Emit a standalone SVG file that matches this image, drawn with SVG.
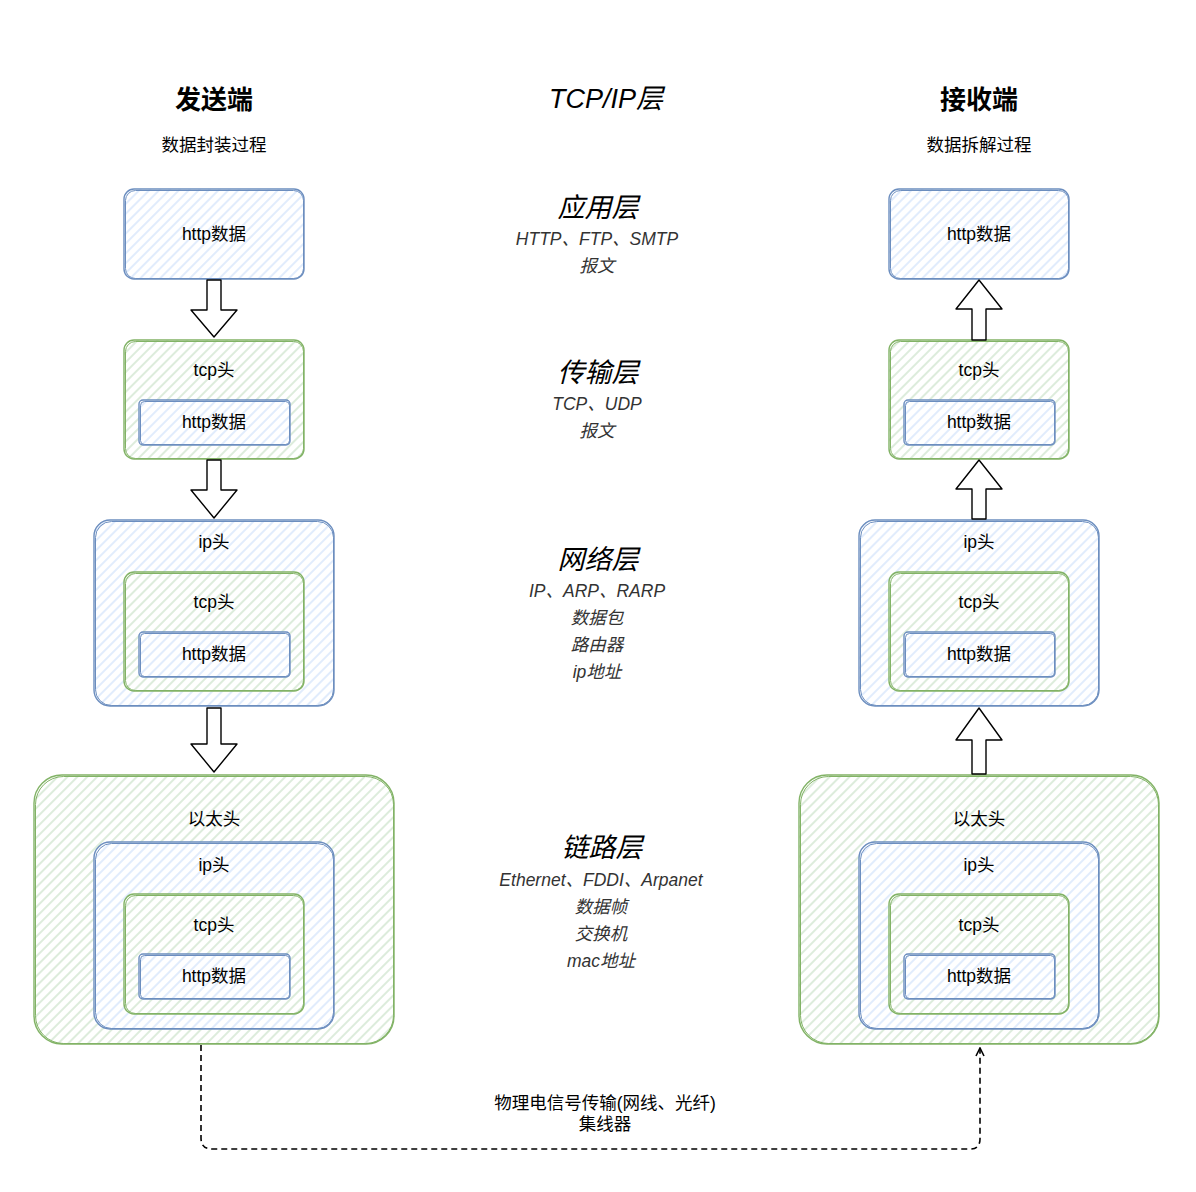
<svg xmlns="http://www.w3.org/2000/svg" width="1196" height="1192" viewBox="0 0 1196 1192">
<style>
text{font-family:"Liberation Sans","Noto Sans CJK SC",sans-serif;fill:#000;text-anchor:middle}
.t{font-size:17.5px}
.h{font-size:26px;font-weight:bold}
.sub{font-size:17.5px}
.lay{font-size:27px;font-style:italic}
.li{font-size:17.5px;font-style:italic;fill:#333}
.b{stroke:#6c8ebf;stroke-width:1.4;fill:url(#hb)}
.g{stroke:#82b366;stroke-width:1.4;fill:url(#hg)}
.b2{stroke:#6c8ebf;stroke-width:1;fill:none}
.g2{stroke:#82b366;stroke-width:1;fill:none}
.arr{fill:#fff;stroke:#000;stroke-width:1.4;stroke-linejoin:round}
.dash{fill:none;stroke:#000;stroke-width:1.6;stroke-dasharray:6 4}
</style>
<defs>
<pattern id="hb" width="7" height="7" patternUnits="userSpaceOnUse" patternTransform="rotate(45)">
<rect width="7" height="7" fill="#fff"/>
<line x1="2" y1="0" x2="2" y2="7" stroke="#dae8fc" stroke-width="1.6"/>
</pattern>
<pattern id="hg" width="7" height="7" patternUnits="userSpaceOnUse" patternTransform="rotate(45)">
<rect width="7" height="7" fill="#fff"/>
<line x1="2" y1="0" x2="2" y2="7" stroke="#d5e8d4" stroke-width="1.6"/>
</pattern>
<marker id="op" viewBox="0 0 10 10" refX="9" refY="5" markerWidth="10" markerHeight="10" orient="auto" markerUnits="userSpaceOnUse">
<path d="M1,1 L9,5 L1,9" fill="none" stroke="#000" stroke-width="1.6"/>
</marker>
</defs>

<g id="titles">
<text class="h" x="214" y="109">发送端</text>
<text class="sub" x="214" y="151">数据封装过程</text>
<text class="lay" x="606" y="108">TCP/IP层</text>
<text class="h" x="979" y="109">接收端</text>
<text class="sub" x="979" y="151">数据拆解过程</text>
</g>

<g id="layers">
<text class="lay" x="598" y="217">应用层</text>
<text class="li" x="597" y="245">HTTP、FTP、SMTP</text>
<text class="li" x="597" y="272">报文</text>
<text class="lay" x="598" y="382">传输层</text>
<text class="li" x="597" y="410">TCP、UDP</text>
<text class="li" x="597" y="437">报文</text>
<text class="lay" x="598" y="569">网络层</text>
<text class="li" x="597" y="597">IP、ARP、RARP</text>
<text class="li" x="597" y="624">数据包</text>
<text class="li" x="597" y="651">路由器</text>
<text class="li" x="597" y="678">ip地址</text>
<text class="lay" x="602" y="857">链路层</text>
<text class="li" x="601" y="886">Ethernet、FDDI、Arpanet</text>
<text class="li" x="601" y="913">数据帧</text>
<text class="li" x="601" y="940">交换机</text>
<text class="li" x="601" y="967">mac地址</text>
</g>

<!-- Left column -->
<g id="L-app">
<rect class="b" x="124" y="189" width="180" height="90" rx="10"/>
<rect class="b2" x="125.5" y="190.5" width="178" height="88" rx="10"/>
<text class="t" x="214" y="240">http数据</text>
</g>
<g id="L-tcp">
<rect class="g" x="124" y="340" width="180" height="119" rx="10"/>
<rect class="g2" x="125.5" y="341.5" width="178" height="117" rx="10"/>
<text class="t" x="214" y="376">tcp头</text>
<rect class="b" x="139" y="400" width="151" height="45" rx="4"/>
<rect class="b2" x="140.5" y="401.5" width="149" height="43" rx="4"/>
<text class="t" x="214" y="428">http数据</text>
</g>
<g id="L-ip">
<rect class="b" x="94" y="520" width="240" height="186" rx="16"/>
<rect class="b2" x="95.5" y="521.5" width="238" height="184" rx="16"/>
<text class="t" x="214" y="548">ip头</text>
<rect class="g" x="124" y="572" width="180" height="119" rx="10"/>
<rect class="g2" x="125.5" y="573.5" width="178" height="117" rx="10"/>
<text class="t" x="214" y="608">tcp头</text>
<rect class="b" x="139" y="632" width="151" height="45" rx="4"/>
<rect class="b2" x="140.5" y="633.5" width="149" height="43" rx="4"/>
<text class="t" x="214" y="660">http数据</text>
</g>
<g id="L-eth">
<rect class="g" x="34" y="775" width="360" height="269" rx="28"/>
<rect class="g2" x="35.5" y="776.5" width="358" height="267" rx="28"/>
<text class="t" x="214" y="825">以太头</text>
<rect class="b" x="94" y="842" width="240" height="187" rx="16"/>
<rect class="b2" x="95.5" y="843.5" width="238" height="185" rx="16"/>
<text class="t" x="214" y="871">ip头</text>
<rect class="g" x="124" y="894" width="180" height="120" rx="10"/>
<rect class="g2" x="125.5" y="895.5" width="178" height="118" rx="10"/>
<text class="t" x="214" y="931">tcp头</text>
<rect class="b" x="139" y="954" width="151" height="45" rx="4"/>
<rect class="b2" x="140.5" y="955.5" width="149" height="43" rx="4"/>
<text class="t" x="214" y="982">http数据</text>
</g>

<!-- Right column -->
<g id="R-app">
<rect class="b" x="889" y="189" width="180" height="90" rx="10"/>
<rect class="b2" x="890.5" y="190.5" width="178" height="88" rx="10"/>
<text class="t" x="979" y="240">http数据</text>
</g>
<g id="R-tcp">
<rect class="g" x="889" y="340" width="180" height="119" rx="10"/>
<rect class="g2" x="890.5" y="341.5" width="178" height="117" rx="10"/>
<text class="t" x="979" y="376">tcp头</text>
<rect class="b" x="904" y="400" width="151" height="45" rx="4"/>
<rect class="b2" x="905.5" y="401.5" width="149" height="43" rx="4"/>
<text class="t" x="979" y="428">http数据</text>
</g>
<g id="R-ip">
<rect class="b" x="859" y="520" width="240" height="186" rx="16"/>
<rect class="b2" x="860.5" y="521.5" width="238" height="184" rx="16"/>
<text class="t" x="979" y="548">ip头</text>
<rect class="g" x="889" y="572" width="180" height="119" rx="10"/>
<rect class="g2" x="890.5" y="573.5" width="178" height="117" rx="10"/>
<text class="t" x="979" y="608">tcp头</text>
<rect class="b" x="904" y="632" width="151" height="45" rx="4"/>
<rect class="b2" x="905.5" y="633.5" width="149" height="43" rx="4"/>
<text class="t" x="979" y="660">http数据</text>
</g>
<g id="R-eth">
<rect class="g" x="799" y="775" width="360" height="269" rx="28"/>
<rect class="g2" x="800.5" y="776.5" width="358" height="267" rx="28"/>
<text class="t" x="979" y="825">以太头</text>
<rect class="b" x="859" y="842" width="240" height="187" rx="16"/>
<rect class="b2" x="860.5" y="843.5" width="238" height="185" rx="16"/>
<text class="t" x="979" y="871">ip头</text>
<rect class="g" x="889" y="894" width="180" height="120" rx="10"/>
<rect class="g2" x="890.5" y="895.5" width="178" height="118" rx="10"/>
<text class="t" x="979" y="931">tcp头</text>
<rect class="b" x="904" y="954" width="151" height="45" rx="4"/>
<rect class="b2" x="905.5" y="955.5" width="149" height="43" rx="4"/>
<text class="t" x="979" y="982">http数据</text>
</g>

<g id="connectors">
<path class="arr" d="M207,280 L221,280 L221,310 L237,310 L214,337 L191,310 L207,310 Z"/>
<path class="arr" d="M207,460 L221,460 L221,490 L237,490 L214,518 L191,490 L207,490 Z"/>
<path class="arr" d="M207,708 L221,708 L221,744 L237,744 L214,772 L191,744 L207,744 Z"/>
<path class="arr" d="M972,340 L986,340 L986,309 L1002,309 L979,280 L956,309 L972,309 Z"/>
<path class="arr" d="M972,519 L986,519 L986,489 L1002,489 L979,460 L956,489 L972,489 Z"/>
<path class="arr" d="M972,774 L986,774 L986,740 L1002,740 L979,708 L956,740 L972,740 Z"/>
<path class="dash" d="M201,1045 L201,1138 Q201,1149 212,1149 L970,1149 Q980,1149 980,1139 L980,1048" marker-end="url(#op)"/>
<text class="sub" x="605" y="1109">物理电信号传输(网线、光纤)</text>
<text class="sub" x="605" y="1130">集线器</text>
</g>
</svg>
